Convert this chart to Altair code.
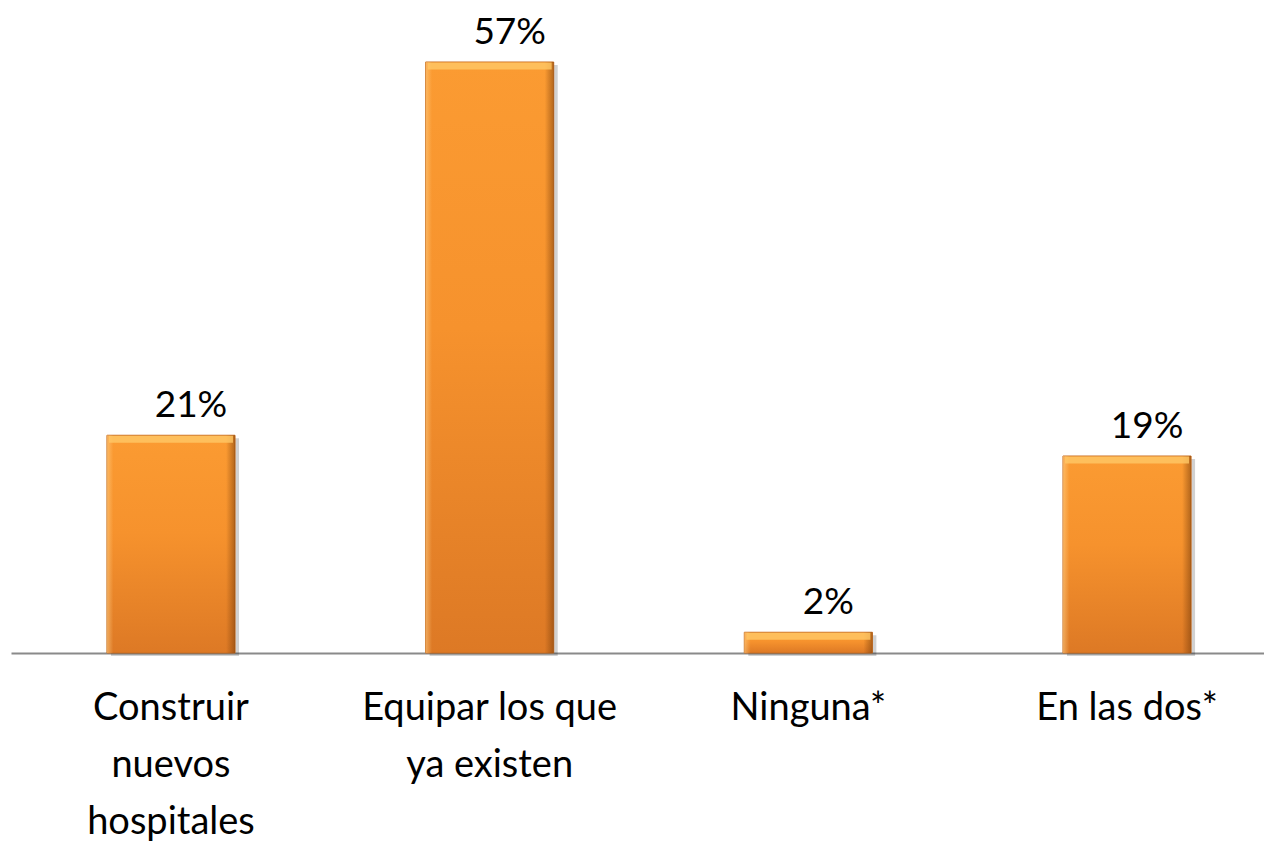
import altair as alt
import pandas as pd

categories = ["Construir\nnuevos\nhospitales", "Equipar los que\nya existen", "Ninguna*", "En las dos*"]
values = [21, 57, 2, 19]

df = pd.DataFrame({"cat": categories, "value": values})

FONT = "Lato"

x_enc = alt.X(
    "cat:N",
    sort=categories,
    scale=alt.Scale(range=[0, 1276], paddingInner=0.598, paddingOuter=0.301),
    axis=alt.Axis(
        title=None,
        ticks=False,
        domainColor="#8a8a8a",
        domainWidth=2,
        labelAngle=0,
        labelFont=FONT,
        labelFontSize=38,
        labelLineHeight=57,
        labelColor="#000000",
        labelPadding=36,
        labelLimit=0,
        labelOverlap=False,
        labelExpr="split(datum.label, '\\n')",
    ),
)
y_enc = alt.Y("value:Q", scale=alt.Scale(domain=[0, 57], nice=False), axis=None)

base = alt.Chart(df).encode(x=x_enc, y=y_enc)

shadow = base.mark_bar(color="rgba(0,0,0,0.18)", xOffset=4, yOffset=3)

bars = base.mark_bar(
    fill=alt.Gradient(
        gradient="linear",
        x1=0, x2=0, y1=0, y2=1,
        stops=[
            alt.GradientStop(color="#FB9B32", offset=0),
            alt.GradientStop(color="#F6922D", offset=0.45),
            alt.GradientStop(color="#DD7925", offset=1),
        ],
    ),
    stroke="#C86F22",
    strokeWidth=1,
)

edges = base.mark_bar(
    fill=alt.Gradient(
        gradient="linear",
        x1=0, x2=1, y1=0, y2=0,
        stops=[
            alt.GradientStop(color="rgba(255,210,140,0.55)", offset=0),
            alt.GradientStop(color="rgba(255,210,140,0)", offset=0.05),
            alt.GradientStop(color="rgba(120,60,10,0)", offset=0.93),
            alt.GradientStop(color="rgba(120,60,10,0.55)", offset=1),
        ],
    ),
)

top_hl = base.mark_tick(color="#FFC866", opacity=0.8, thickness=7, size=124, yOffset=4)

labels = base.transform_calculate(lbl="datum.value + '%'").mark_text(
    font=FONT, fontSize=37, color="#000000", dx=20, dy=-29, baseline="middle"
).encode(text="lbl:N")

chart = (
    alt.layer(shadow, bars, edges, top_hl, labels)
    .properties(
        width=1253,
        height=591,
        padding={"left": 3, "top": 54, "right": 0, "bottom": 192},
        autosize=alt.AutoSizeParams(type="none"),
    )
    .configure(background="white")
    .configure_view(stroke=None, strokeWidth=0)
)

chart.save("out.html", embed_options={"renderer": "svg", "actions": False})
